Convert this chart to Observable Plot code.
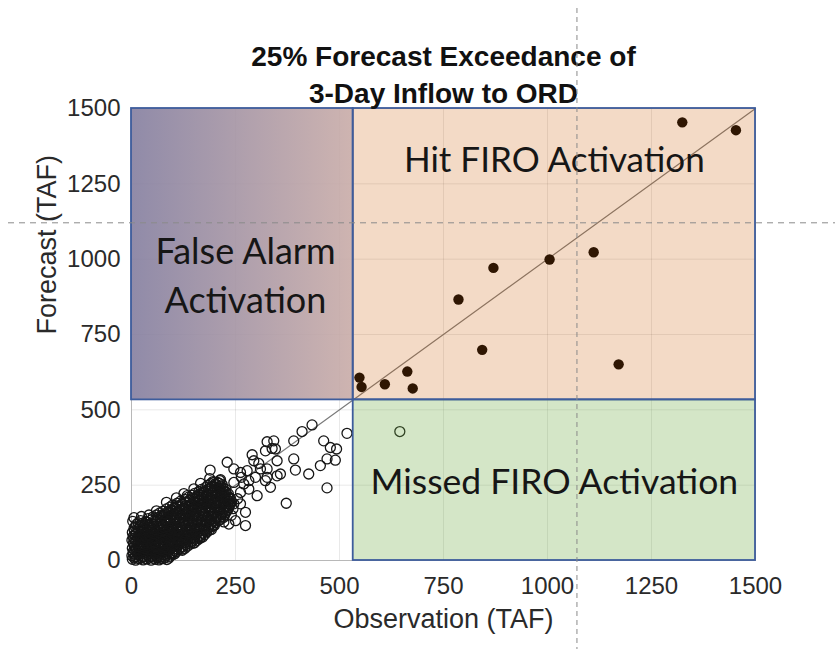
<!DOCTYPE html>
<html>
<head>
<meta charset="utf-8">
<script src="https://cdn.jsdelivr.net/npm/d3@7"></script>
<script src="https://cdn.jsdelivr.net/npm/@observablehq/plot@0.6"></script>
<style>
  html, body { margin: 0; padding: 0; background: #fff; }
  #chart { width: 835px; height: 649px; }
</style>
</head>
<body>
<div id="chart"></div>
<script>
// ---------- text ----------
const titleLines = ["25% Forecast Exceedance of", "3-Day Inflow to ORD"];
const xLabel = "Observation (TAF)";
const yLabel = "Forecast (TAF)";
const regionNames = ["False Alarm\nActivation", "Hit FIRO Activation", "Missed FIRO Activation"];

// ---------- axes ----------
const axisTicks = [0, 250, 500, 750, 1000, 1250, 1500];
const threshold = 533;          // FIRO activation threshold (TAF)
const oneToOne = [0, 1500];     // 1:1 reference line
const guideObs = [1072];        // dashed guide (vertical)
const guideFcst = [1119];       // dashed guide (horizontal)

// ---------- events above threshold (filled) ----------
const hitObs  = [548, 553, 609, 663, 676, 786, 843, 870, 1005, 1111, 1171, 1324, 1453];
const hitFcst = [607, 576, 585, 627, 571, 866, 699, 971,  999, 1023,  651, 1454, 1428];

// ---------- all other days (open circles) [observation, forecast] ----------
const cloud = [
  [2,4],[10,1],[19,6],[28,2],[38,5],[47,1],[57,4],[66,2],[76,6],[85,3],
  [6,9],[15,8],[24,10],[33,7],[43,11],[52,8],[62,10],[71,7],[80,9],[90,8],
  [1,16],[9,12],[20,17],[30,13],[41,18],[50,14],[61,16],[71,12],[82,17],[92,14],
  [5,22],[15,21],[25,23],[36,20],[46,24],[56,21],[66,22],[77,20],[87,23],[97,21],[104,22],
  [4,29],[13,26],[24,31],[34,27],[45,30],[55,25],[66,29],[76,27],[87,31],[98,26],[108,30],
  [8,34],[18,36],[29,33],[40,36],[50,34],[60,32],[71,36],[81,33],[92,35],[102,33],[113,36],[122,34],
  [2,41],[11,38],[22,43],[33,39],[43,42],[54,37],[64,41],[75,44],[85,39],[96,43],[107,38],[118,42],[128,40],
  [7,47],[17,46],[28,49],[38,45],[49,48],[59,46],[70,48],[80,45],[91,49],[101,46],[112,48],[124,46],[135,48],
  [5,54],[15,51],[26,56],[36,52],[47,55],[57,50],[68,54],[78,57],[89,52],[99,55],[110,51],[121,56],[131,53],[142,55],
  [5,60],[15,59],[26,62],[36,58],[46,61],[57,59],[67,62],[78,60],[88,58],[99,61],[109,59],[120,62],[130,60],[141,61],[151,59],
  [1,67],[10,64],[20,69],[31,65],[41,68],[52,63],[62,67],[73,70],[83,65],[94,68],[104,64],[115,69],[125,66],[136,68],[147,64],[158,67],
  [6,73],[16,72],[26,75],[37,71],[47,74],[58,72],[68,75],[79,73],[89,71],[100,74],[110,72],[121,75],[131,73],[142,74],[152,71],[164,73],
  [4,80],[14,77],[25,82],[35,78],[46,81],[56,76],[67,80],[77,83],[88,78],[98,81],[109,77],[119,82],[130,79],[140,81],[151,77],[161,80],[171,78],
  [8,86],[19,85],[30,87],[40,84],[51,88],[61,85],[72,87],[82,84],[93,88],[103,85],[114,87],[124,84],[135,88],[145,85],[156,87],[166,84],[176,86],
  [2,93],[12,90],[23,95],[33,91],[44,94],[54,89],[65,93],[75,96],[86,91],[96,94],[107,90],[117,95],[128,92],[138,94],[149,90],[159,93],[170,91],[181,94],
  [7,99],[18,98],[28,101],[39,97],[49,100],[60,98],[70,101],[81,99],[91,97],[102,100],[112,98],[123,101],[133,99],[144,100],[154,97],[165,100],[176,98],[187,100],
  [6,106],[16,103],[27,108],[37,104],[48,107],[58,102],[69,106],[79,109],[90,104],[100,107],[111,103],[121,108],[132,105],[142,107],[153,103],[163,106],[174,104],[184,107],[192,103],
  [9,112],[20,111],[31,114],[42,110],[53,113],[64,111],[75,114],[86,112],[97,110],[108,113],[119,111],[130,114],[141,112],[152,113],[163,110],[174,113],[185,111],[195,113],
  [11,119],[21,116],[32,121],[42,117],[53,120],[63,115],[74,119],[84,122],[95,117],[105,120],[116,116],[126,121],[137,118],[147,120],[158,116],[168,119],[179,117],[189,120],[199,116],
  [16,125],[27,124],[38,127],[49,123],[60,126],[71,124],[82,127],[93,125],[104,123],[115,126],[126,124],[137,127],[148,125],[159,126],[170,123],[181,126],[192,124],[203,126],
  [3,130],[22,132],[34,129],[47,134],[60,130],[72,133],[83,128],[94,132],[104,135],[115,130],[125,133],[136,129],[146,134],[157,131],[167,133],[178,129],[188,132],[199,130],[210,133],
  [40,139],[58,138],[70,140],[82,137],[93,139],[104,138],[115,140],[126,137],[137,140],[148,138],[159,139],[170,137],[181,140],[192,138],[203,139],[214,137],
  [52,145],[64,142],[76,147],[87,143],[98,146],[108,141],[119,145],[129,148],[140,143],[150,146],[161,142],[171,147],[182,144],[192,146],[203,142],[214,145],[221,143],
  [60,151],[72,150],[84,152],[96,150],[107,153],[118,150],[129,152],[140,151],[151,153],[162,150],[173,152],[184,150],[195,153],[206,151],[217,152],[224,150],
  [68,158],[80,155],[91,160],[102,156],[112,159],[123,154],[133,158],[144,161],[154,156],[165,159],[175,155],[186,160],[196,157],[207,159],[217,155],[226,158],
  [76,164],[88,163],[100,165],[111,162],[122,165],[133,163],[144,165],[155,162],[166,165],[177,163],[188,165],[199,162],[210,165],[221,163],[230,165],
  [84,171],[95,168],[106,173],[116,169],[127,172],[137,167],[148,171],[158,174],[169,169],[179,172],[190,168],[200,173],[211,170],[221,172],[231,168],
  [92,177],[104,176],[116,178],[127,175],[138,178],[149,176],[160,178],[171,175],[182,178],[193,176],[204,178],[215,175],[226,178],[234,176],
  [99,184],[110,181],[121,186],[131,182],[142,185],[152,180],[163,184],[173,187],[184,182],[194,185],[205,181],[215,186],[226,183],[236,185],
  [110,190],[122,189],[134,191],[145,188],[156,191],[167,189],[178,191],[189,188],[200,191],[211,189],[222,191],[232,188],[239,190],
  [118,197],[129,194],[140,199],[150,195],[161,198],[171,193],[182,197],[192,200],[203,195],[213,198],[224,194],[234,197],[241,195],
  [128,203],[140,202],[152,204],[163,201],[174,204],[185,202],[196,204],[207,201],[218,204],[229,202],[237,203],
  [137,210],[148,207],[159,212],[169,208],[180,211],[190,206],[201,210],[211,213],[222,208],[232,211],[238,207],
  [146,216],[158,215],[169,217],[180,214],[191,217],[202,215],[213,217],[224,214],[231,216],
  [152,223],[163,220],[174,225],[184,221],[195,224],[205,219],[216,223],[226,226],[233,221],
  [162,229],[173,228],[184,230],[195,227],[206,230],[217,228],[226,229],
  [168,236],[179,233],[190,238],[200,234],[211,237],[221,232],[227,236],
  [178,242],[189,241],[200,243],[210,240],[220,242],
  [183,249],[194,246],[204,251],[214,247],[218,252],
  [190,255],[201,254],[211,256],
  [196,262],[207,259],[212,265],
  // fringe
  [6,142],[24,146],[42,151],[60,165],[84,193],[108,208],[126,222],[134,215],[150,238],[166,256],[188,272],[198,259],[214,268],[189,300],
  [230,326],[246,304],[246,259],[262,292],[264,276],[278,298],[282,265],[298,276],[282,237],[302,215],[262,226],
  [246,188],[262,188],[244,172],[274,160],[274,116],[234,121],[250,132],[222,128],[270,254],
  [180,96],[196,118],[205,140],[166,77],[150,58],[122,38],[100,20],[240,150],[255,205],[232,200],
  // upper tail
  [290,351],[294,331],[310,304],[326,276],[358,287],[306,322],[326,304],[322,364],[322,265],[334,243],[350,281],[350,331],
  [346,370],[338,372],[326,394],[342,397],[390,397],[410,428],[434,450],[462,397],[478,375],[493,370],[490,333],
  [470,337],[454,315],[426,287],[394,300],[390,337],[470,241],[372,190],[518,422],
  [645,428]
];

// ---------- build ----------
const lo = axisTicks[0], hi = axisTicks[axisTicks.length - 1];
const hits = hitObs.map((o, i) => ({obs: o, fcst: hitFcst[i]}));
const others = cloud.map(([o, f]) => ({obs: o, fcst: f}));
const falseRegion  = [{x1: lo, x2: threshold, y1: threshold, y2: hi}];
const hitRegion    = [{x1: threshold, x2: hi, y1: threshold, y2: hi}];
const missedRegion = [{x1: threshold, x2: hi, y1: lo, y2: threshold}];
const border = "#3d5c9c";
const labelFont = "Lato, 'Open Sans', sans-serif";

const plot = Plot.plot({
  width: 835,
  height: 649,
  marginLeft: 131,
  marginRight: 80,
  marginTop: 108,
  marginBottom: 89,
  style: {fontFamily: "'Liberation Sans', Arial, sans-serif", fontSize: "24px", color: "#2a2a2a", background: "white"},
  x: {domain: [lo, hi], ticks: axisTicks, tickFormat: "d", tickSize: 0, tickPadding: 16, grid: true, label: null},
  y: {domain: [lo, hi], ticks: axisTicks, tickFormat: "d", tickSize: 0, tickPadding: 11, grid: true, label: null},
  marks: [
    Plot.frame({stroke: "#b8b8b8", strokeWidth: 1}),
    Plot.line(oneToOne, {x: d => d, y: d => d, stroke: "#7a7a7a", strokeWidth: 1.2}),
    Plot.dot(others, {x: "obs", y: "fcst", r: 5, stroke: "#161616", strokeWidth: 1.3, fill: "none"}),
    Plot.dot(hits, {x: "obs", y: "fcst", r: 5.2, fill: "#000", stroke: "none"}),
    // region overlays
    Plot.rect(falseRegion, {x1: "x1", x2: "x2", y1: "y1", y2: "y2", fill: "url(#faGrad)", fillOpacity: 0.9, stroke: border, strokeWidth: 1.8}),
    Plot.rect(hitRegion, {x1: "x1", x2: "x2", y1: "y1", y2: "y2", fill: "#cb5e07", fillOpacity: 0.23, stroke: border, strokeWidth: 1.8}),
    Plot.rect(missedRegion, {x1: "x1", x2: "x2", y1: "y1", y2: "y2", fill: "#70ad47", fillOpacity: 0.3, stroke: border, strokeWidth: 1.8}),
    // region labels
    Plot.text([regionNames[0]], {x: 274, y: 820, text: d => d, lineAnchor: "bottom", lineHeight: 1.37, fontSize: 36, fontFamily: labelFont, fill: "#161616"}),
    Plot.text([regionNames[1]], {x: (threshold + hi) / 2, y: 1288, text: d => d, lineAnchor: "bottom", fontSize: 35, fontFamily: labelFont, fill: "#161616"}),
    Plot.text([regionNames[2]], {x: (threshold + hi) / 2, y: 222, text: d => d, lineAnchor: "bottom", fontSize: 35.5, fontFamily: labelFont, fill: "#161616"}),
    // title and axis labels
    Plot.text([titleLines.join("\n")], {frameAnchor: "top", dy: -6, lineAnchor: "bottom", lineHeight: 1.32, fontSize: 28, fontWeight: "bold", fill: "#111", ariaLabel: "chart-title"}),
    Plot.text([xLabel], {frameAnchor: "bottom", dy: 67, lineAnchor: "bottom", fontSize: 27, fill: "#2a2a2a"}),
    Plot.text([yLabel], {frameAnchor: "left", dx: -76, rotate: -90, lineAnchor: "bottom", fontSize: 27, fill: "#2a2a2a"})
  ]
});

// gradient for the false-alarm region
const svg = d3.select(plot);
const defs = svg.insert("defs", ":first-child");
const grad = defs.append("linearGradient").attr("id", "faGrad").attr("x1", "0").attr("x2", "1").attr("y1", "0").attr("y2", "0");
grad.append("stop").attr("offset", "0%").attr("stop-color", "#847e9f");
grad.append("stop").attr("offset", "100%").attr("stop-color", "#c9aca8");

// slightly wider title letter spacing
svg.selectAll('g[aria-label="chart-title"] text').attr("letter-spacing", "0.4px");

// dashed guides across the whole picture
const sx = plot.scale("x"), sy = plot.scale("y");
const W = 835, H = 649;
svg.selectAll(null).data(guideObs).join("line")
  .attr("x1", d => sx.apply(d)).attr("x2", d => sx.apply(d))
  .attr("y1", 8).attr("y2", H)
  .attr("stroke", "#8a8a8a").attr("stroke-width", 1).attr("stroke-dasharray", "5,4");
svg.selectAll(null).data(guideFcst).join("line")
  .attr("y1", d => sy.apply(d)).attr("y2", d => sy.apply(d))
  .attr("x1", 8).attr("x2", W)
  .attr("stroke", "#8a8a8a").attr("stroke-width", 1).attr("stroke-dasharray", "6,5");

document.getElementById("chart").appendChild(plot);
</script>
</body>
</html>
